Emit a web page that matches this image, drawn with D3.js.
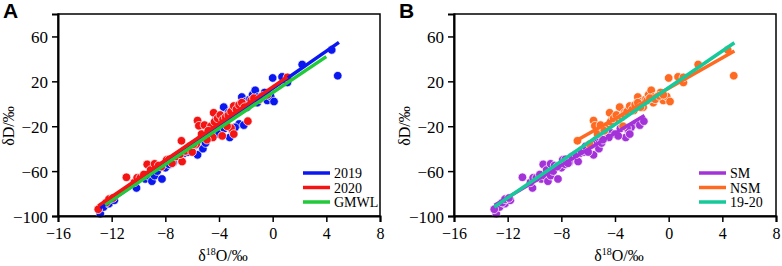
<html><head>
<meta charset="utf-8">
<title>dD vs d18O</title>
<script type="text/javascript" src="https://d3js.org/d3.v7.min.js"></script>
<style>
  body { margin: 0; background: #fff; }
  text { font-family: "Liberation Serif", "Times New Roman", serif; }
</style>
</head>
<body>
<div id="chart"></div>
<script>

// point data [d18O, dD], split by year and season
var sm2019 = [[-12.85,-98],[-12.6,-92],[-12.2,-89],[-11.8,-86],[-10.15,-75],[-9.5,-67],[-9.3,-64],[-9.0,-69],[-8.8,-64],[-8.6,-60],[-8.25,-67],[-8.0,-57],[-7.7,-54],[-7.4,-52],[-7.0,-47],[-6.6,-44],[-6.3,-43],[-6.0,-40],[-5.8,-37],[-5.6,-45.5],[-5.4,-32],[-5.2,-40],[-5.0,-35],[-4.7,-30],[-4.3,-26],[-4.0,-27],[-3.6,-22],[-3.2,-30],[-3.0,-24],[-2.5,-18],[-2.15,-19],[-2.8,-21]];
var nsm2019 = [[-4.2,-12],[-3.65,-3],[-3.3,-8],[-3.0,-5],[-2.7,-2],[-2.4,0],[-2.3,6],[-2.0,2],[-1.7,4],[-1.5,8],[-1.3,12],[-1.1,6],[-0.8,7],[-0.6,10],[-0.4,3],[-0.15,6.5],[0.1,2],[-1.15,1],[0,23],[0.7,24],[1.1,19],[2.2,35],[4.4,48],[4.85,25],[-2.6,-6],[-1.9,-3]];
var sm2020 = [[-13,-94],[-12.4,-88],[-12.2,-85],[-11.9,-84],[-10.9,-65.5],[-10.3,-70],[-10.1,-66],[-9.86,-66],[-9.6,-63],[-9.35,-54],[-9.1,-59],[-8.8,-53.5],[-8.5,-55],[-8.3,-56],[-7.9,-50],[-7.7,-49.5],[-7.5,-53],[-7.2,-47],[-6.75,-51.5],[-6.9,-45],[-6.5,-42],[-6.2,-38],[-6.0,-43],[-5.7,-36],[-4.46,-30],[-3.76,-28.6],[-5.13,-30],[-4.9,-32],[-3.1,-21.7],[-2.9,-27],[-1.85,-15.5]];
var nsm2020 = [[-6.8,-33],[-5.6,-15],[-5.5,-19.6],[-5.08,-19],[-4.6,-20],[-4.33,-16],[-4.4,-8],[-4.1,-13],[-3.9,-10],[-3.7,-14],[-3.5,-12],[-3.3,-10],[-3.1,-7],[-2.9,-2],[-2.7,-5],[-2.5,-1],[-2.3,1],[-2.1,-3],[-1.6,3],[-1.4,5],[-1.0,4],[-0.7,7],[-0.4,8],[1.1,23.5],[-5.9,-36],[-5.3,-27],[-4.8,-24],[-3.4,-20]];

// fitted lines, end points
var fit2019 = [[-12.85,-92.9],[4.94,54.7]];
var fit2020 = [[-13.0,-91],[1.09,23.8]];
var fitGMWL = [[-12.5,-90],[4.0,42]];
var fitSM = [[-12.98,-90.5],[-1.8,-10.4]];
var fitNSM = [[-7.0,-33.7],[4.9,47]];
var fit1920 = [[-13.0,-92],[4.9,54.4]];

var xTicks = [-16,-12,-8,-4,0,4,8];
var yTicks = [-100,-60,-20,20,60];

var margin = {top: 14, left: 58};
var width = 322;
var height = 202;

var svg = d3.select("#chart").append("svg")
    .attr("width", 782)
    .attr("height", 266);

var xScale = d3.scaleLinear().domain([-16, 8]).range([0, width]);
var yScale = d3.scaleLinear().domain([-100, 80]).range([height, 0]);

var line = d3.line()
    .x(function(d) { return xScale(d[0]); })
    .y(function(d) { return yScale(d[1]); });

function drawPanel(ox, letter, pointSets, fits, legend) {
  var g = svg.append("g").attr("transform", "translate(" + ox + "," + margin.top + ")");

  // frame
  g.append("rect")
    .attr("width", width).attr("height", height)
    .attr("fill", "none").attr("stroke", "#000").attr("stroke-width", 1.5);

  // points
  pointSets.forEach(function(s) {
    g.selectAll(null).data(s.data).enter().append("circle")
      .attr("cx", function(d) { return xScale(d[0]); })
      .attr("cy", function(d) { return yScale(d[1]); })
      .attr("r", 4.3)
      .attr("fill", s.color)
      .attr("stroke", "#fff")
      .attr("stroke-width", 0.7);
  });

  // fit lines
  fits.forEach(function(f) {
    g.append("path").datum(f.data)
      .attr("fill", "none").attr("stroke", f.color)
      .attr("stroke-width", 3.5)
      .attr("d", line);
  });

  // axes
  var xAxis = g.append("g").attr("transform", "translate(0," + height + ")")
    .call(d3.axisBottom(xScale).tickValues(xTicks).tickSize(6).tickPadding(6));
  var yAxis = g.append("g")
    .call(d3.axisLeft(yScale).tickValues(yTicks).tickSize(6).tickPadding(4));
  [xAxis, yAxis].forEach(function(a) {
    a.select(".domain").attr("stroke-width", 2);
    a.selectAll(".tick line").attr("stroke-width", 1.5);
    a.selectAll("text").style("font-family", "Liberation Serif").style("font-size", "16px").attr("fill", "#000");
  });
  yAxis.selectAll("text").style("font-size", "17px").attr("dy", "0.36em");

  // axis titles
  g.append("text")
    .attr("transform", "translate(-44," + (height / 2 + 11) + ") rotate(-90)")
    .attr("text-anchor", "middle")
    .style("font-size", "16px")
    .text("δD/‰");

  var xt = g.append("text")
    .attr("x", 165).attr("y", height + 45)
    .attr("text-anchor", "middle")
    .style("font-size", "16px");
  xt.append("tspan").text("δ");
  xt.append("tspan").attr("dy", -6).style("font-size", "10px").text("18");
  xt.append("tspan").attr("dy", 6).text("O/‰");

  // legend
  legend.forEach(function(l, i) {
    var ly = 159 + i * 14.5;
    g.append("line")
      .attr("x1", width - 77).attr("x2", width - 50)
      .attr("y1", ly).attr("y2", ly)
      .attr("stroke", l.color).attr("stroke-width", 3.5);
    g.append("text")
      .attr("x", width - 46).attr("y", ly + 5)
      .style("font-size", "14px")
      .text(l.name);
  });

  // panel letter
  svg.append("text")
    .attr("x", ox - 55).attr("y", 18)
    .style("font-family", "Liberation Sans, Arial, sans-serif")
    .style("font-weight", "bold")
    .style("font-size", "21px")
    .text(letter);
}

var cBlue = "#0b17f0", cRed = "#f51414", cGreen = "#22c93a";
var cPurple = "#a333d9", cOrange = "#ff6a22", cTeal = "#16c99a";

drawPanel(58, "A",
  [{data: sm2019, color: cBlue}, {data: nsm2019, color: cBlue},
   {data: sm2020, color: cRed}, {data: nsm2020, color: cRed}],
  [{data: fit2019, color: cBlue}, {data: fitGMWL, color: cGreen}, {data: fit2020, color: cRed}],
  [{name: "2019", color: cBlue}, {name: "2020", color: cRed}, {name: "GMWL", color: cGreen}]);

drawPanel(454, "B",
  [{data: sm2019, color: cPurple}, {data: sm2020, color: cPurple},
   {data: nsm2019, color: cOrange}, {data: nsm2020, color: cOrange}],
  [{data: fitSM, color: cPurple}, {data: fitNSM, color: cOrange}, {data: fit1920, color: cTeal}],
  [{name: "SM", color: cPurple}, {name: "NSM", color: cOrange}, {name: "19-20", color: cTeal}]);

</script>
</body></html>
